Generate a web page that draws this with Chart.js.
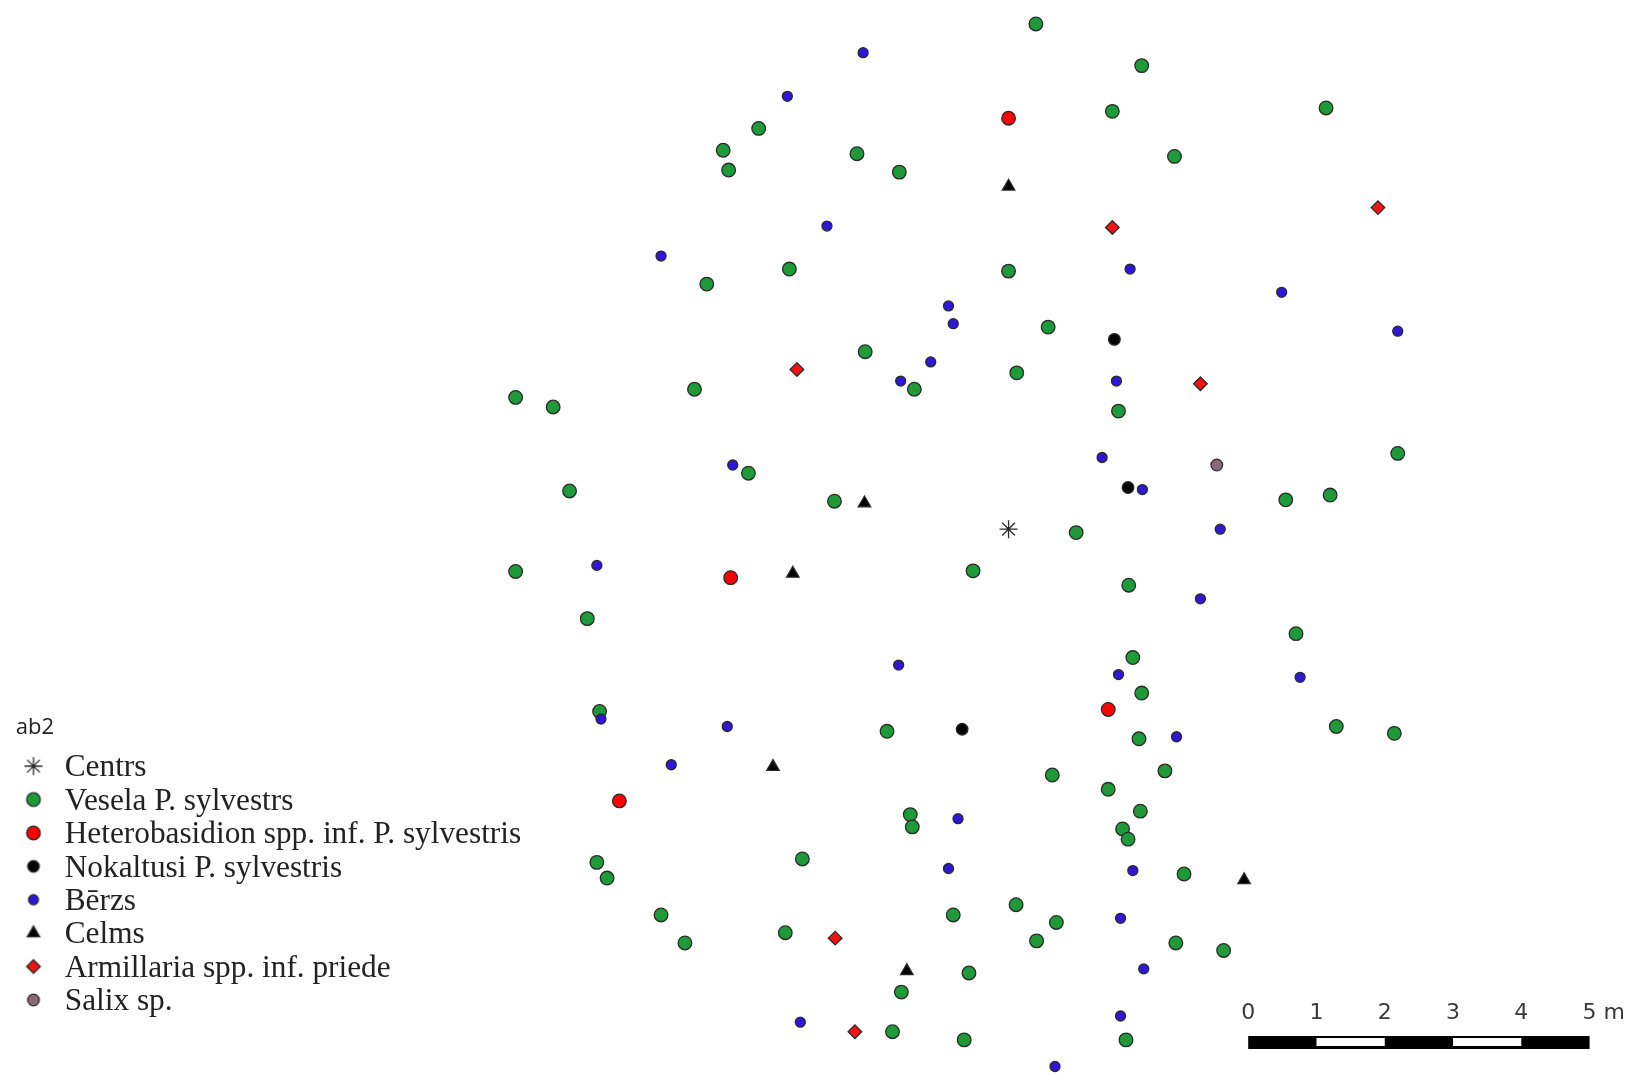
<!DOCTYPE html>
<html>
<head>
<meta charset="utf-8">
<style>
html,body{margin:0;padding:0;background:#fff;}
canvas{display:block;filter:blur(0.5px);}
</style>
<script src="https://cdn.jsdelivr.net/npm/chart.js@4"></script>
</head>
<body>
<canvas id="c" width="1627" height="1076" style="width:1627px;height:1076px"></canvas>
<script>
// Positions in metres relative to the plot centre
const centrs = [[0,0]];
const vesela = [[0.40,7.40],[1.95,6.79],[1.52,6.12],[4.65,6.17],[2.43,5.46],[-3.66,5.87],[-4.18,5.55],[-4.10,5.26],[-2.22,5.50],[-1.60,5.23],
[-3.21,3.81],[-4.42,3.59],[0,3.78],[0.58,2.96],[-2.10,2.60],[0.12,2.29],[-1.38,2.05],[-4.60,2.05],[-7.22,1.93],[-6.67,1.79],
[1.61,1.73],[5.70,1.11],[-3.81,0.82],[-6.43,0.56],[-2.55,0.41],[4.06,0.43],[4.71,0.50],[0.99,-0.05],[-7.22,-0.62],[-0.52,-0.61],
[1.76,-0.82],[-6.17,-1.31],[4.21,-1.53],[1.82,-1.88],[1.95,-2.40],[-5.99,-2.67],[-1.78,-2.96],[4.80,-2.89],[5.65,-2.99],[1.91,-3.07],
[2.29,-3.54],[0.64,-3.60],[1.46,-3.81],[1.93,-4.13],[-1.44,-4.18],[-1.41,-4.36],[1.67,-4.39],[1.75,-4.54],[-3.02,-4.83],[-6.03,-4.88],
[-5.88,-5.11],[2.57,-5.05],[-5.09,-5.65],[-4.74,-6.06],[-3.27,-5.91],[-0.81,-5.65],[0.11,-5.50],[0.70,-5.76],[0.41,-6.03],[2.45,-6.06],
[3.15,-6.17],[-0.58,-6.50],[-1.57,-6.78],[-1.70,-7.36],[-0.65,-7.48],[1.72,-7.48]];
const heterobasidion = [[0,6.02],[-4.07,-0.71],[1.46,-2.64],[-5.70,-3.98]];
const nokaltusi = [[1.55,2.78],[1.75,0.61],[-0.68,-2.93]];
const berzs = [[-2.13,6.98],[-3.24,6.34],[-2.66,4.44],[-5.09,4.00],[1.78,3.81],[4.00,3.47],[-0.88,3.27],[-0.81,3.01],[5.70,2.90],[-1.14,2.45],
[-1.58,2.17],[1.58,2.17],[1.37,1.05],[-4.04,0.94],[1.96,0.58],[3.10,0],[-6.03,-0.53],[2.81,-1.02],[-1.61,-1.99],[1.61,-2.13],
[4.27,-2.17],[-5.97,-2.78],[-4.12,-2.89],[2.46,-3.04],[-4.94,-3.45],[-0.74,-4.24],[-0.88,-4.97],[1.82,-5.00],[1.64,-5.70],[1.98,-6.44],
[1.64,-7.13],[-3.05,-7.22],[0.68,-7.87]];
const celms = [[0,5.02],[-2.11,0.38],[-3.16,-0.65],[-3.45,-3.48],[3.45,-5.14],[-1.49,-6.47]];
const armillaria = [[5.41,4.71],[1.52,4.42],[-3.10,2.34],[2.81,2.13],[-2.54,-5.99],[-2.25,-7.36]];
const salix = [[3.05,0.94]];

// Scale bar (map metres)
const scaleBarTicks = ['0','1','2','3','4','5 m'];
const scaleBarStart = 3.51, scaleBarY = -7.52;
const scaleBlack = [[3.51,-7.52],[8.51,-7.52]];
const scaleWhite1 = [[4.51,-7.51],[5.51,-7.51]];
const scaleWhite2 = [[6.51,-7.51],[7.51,-7.51]];

const legendTitle = 'ab2';
const xMin=-14.772, xMax=9.058, yMin=-8.009, yMax=7.751;

const edge = '#2a2a2a';
const pts = a => a.map(p => ({x:p[0], y:p[1]}));
function series(label,data,style,radius,fill,order,bw){
  return {label,data:pts(data),showLine:false,pointStyle:style,pointRadius:radius,pointHoverRadius:radius,
    pointBackgroundColor:fill,pointBorderColor:edge,pointBorderWidth:bw===undefined?1.3:bw,
    backgroundColor:fill,borderColor:edge,order};
}
function bar(data,color,width,order){
  return {label:'_scale',data:pts(data),showLine:true,pointRadius:0,borderColor:color,borderWidth:width,order,
    borderCapStyle:'butt',tension:0,fill:false};
}
const datasets = [
  series('Centrs',centrs,'star',9,'#333',0,1.3),
  series('Vesela P. sylvestrs',vesela,'circle',6.8,'#1f9a38',7),
  series('Heterobasidion spp. inf. P. sylvestris',heterobasidion,'circle',6.8,'#ff0000',6),
  series('Nokaltusi P. sylvestris',nokaltusi,'circle',5.8,'#000000',5),
  series('Bērzs',berzs,'circle',5,'#3016d6',1),
  series('Celms',celms,'triangle',7.2,'#000000',3),
  series('Armillaria spp. inf. priede',armillaria,'rectRot',6.8,'#f01414',2),
  series('Salix sp.',salix,'circle',5.8,'#8a6a7a',4),
  bar(scaleBlack,'#000000',13,20),
  bar(scaleWhite1,'#ffffff',8,19),
  bar(scaleWhite2,'#ffffff',8,19)
];

function markerCanvas(ds){
  const r = ds.pointRadius, s = 2*Math.ceil(r+5);
  const cv = document.createElement('canvas'); cv.width = s; cv.height = s;
  const ctx = cv.getContext('2d');
  ctx.fillStyle = ds.pointBackgroundColor; ctx.strokeStyle = ds.pointBorderColor;
  ctx.lineWidth = ds.pointBorderWidth;
  Chart.helpers.drawPoint(ctx,{pointStyle:ds.pointStyle,radius:r,borderWidth:ds.pointBorderWidth,rotation:0},s/2,s/2-2);
  return cv;
}

const placeLegend = {
  id:'placeLegend',
  afterLayout(chart){ const l = chart.legend; l.left = 15.7; l.top = 717; }
};
const scaleLabels = {
  id:'scaleLabels',
  afterDraw(chart){
    const ctx = chart.ctx, sx = chart.scales.x, sy = chart.scales.y;
    const y = sy.getPixelForValue(scaleBarY) - 29;
    ctx.save();
    ctx.font = '22px "DejaVu Sans"';
    ctx.fillStyle = '#3a3a3a';
    ctx.textBaseline = 'middle';
    scaleBarTicks.forEach((t,i)=>{
      const x = sx.getPixelForValue(scaleBarStart+i);
      ctx.textAlign = 'left';
      ctx.fillText(t, x - ctx.measureText(t.charAt(0)).width/2, y);
    });
    ctx.restore();
  }
};

new Chart(document.getElementById('c'),{
  type:'scatter',
  data:{datasets},
  plugins:[placeLegend,scaleLabels],
  options:{
    responsive:false,animation:false,devicePixelRatio:1,
    layout:{padding:0,autoPadding:false},
    scales:{
      x:{type:'linear',display:false,min:xMin,max:xMax},
      y:{type:'linear',display:false,min:yMin,max:yMax}
    },
    plugins:{
      tooltip:{enabled:false},
      legend:{
        display:true,position:'chartArea',align:'start',
        title:{display:true,text:legendTitle,position:'start',color:'#222',font:{family:'"Open Sans"',size:22},padding:{top:0,bottom:7}},
        labels:{
          usePointStyle:true,boxWidth:33.4,boxHeight:20,padding:2.1,color:'#222',
          font:{family:'"Liberation Serif"',size:31.3},
          filter:i=>i.text!=='_scale',
          sort:(a,b)=>a.datasetIndex-b.datasetIndex,
          generateLabels(chart){
            return Chart.defaults.plugins.legend.labels.generateLabels(chart).map(it=>{
              if(it.text!=='_scale') it.pointStyle = markerCanvas(chart.data.datasets[it.datasetIndex]);
              return it;
            });
          }
        }
      }
    }
  }
});
</script>
</body>
</html>
